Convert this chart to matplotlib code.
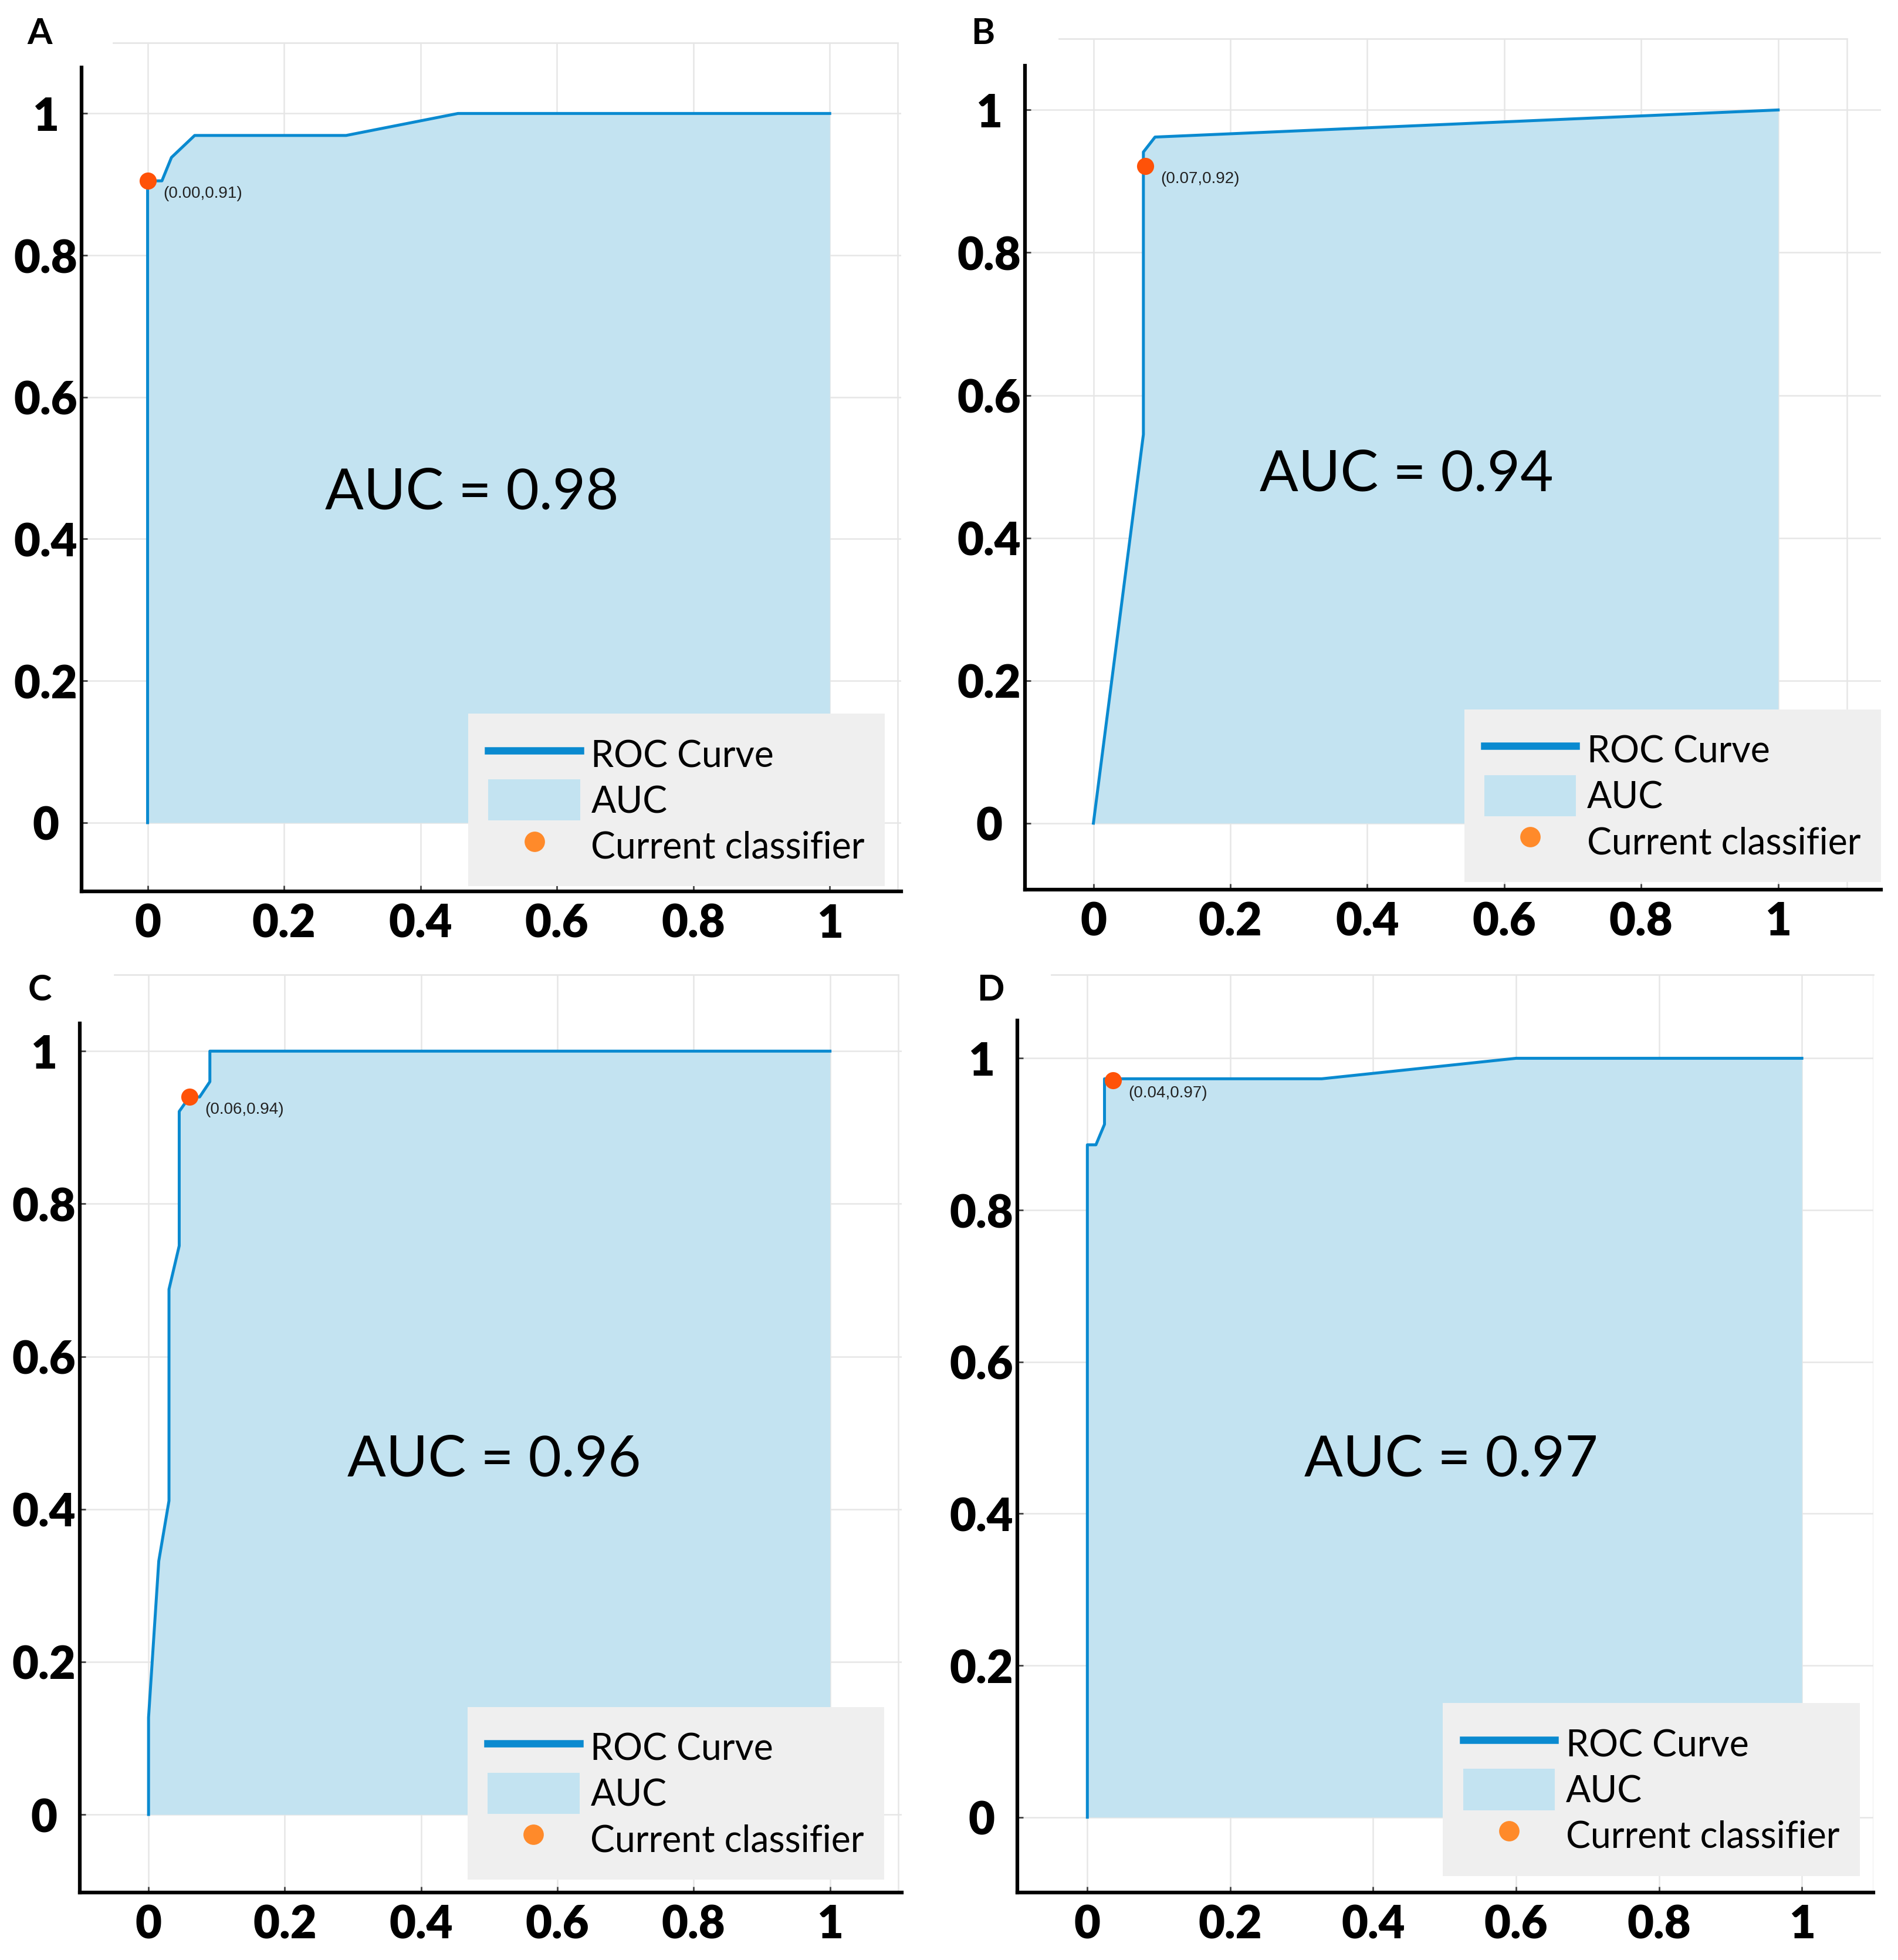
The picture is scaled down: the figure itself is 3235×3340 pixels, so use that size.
import matplotlib
matplotlib.use('Agg')
import matplotlib.pyplot as plt
from matplotlib.lines import Line2D
from matplotlib.patches import Patch

# ---------------- data ----------------
panel_labels = ['A', 'B', 'C', 'D']
auc_values = [0.98, 0.94, 0.96, 0.97]

fpr_a = [0.0, 0.0, 0.021, 0.035, 0.069, 0.291, 0.455, 1.0]
tpr_a = [0.0, 0.905, 0.905, 0.938, 0.969, 0.969, 1.0, 1.0]
fpr_b = [0.0, 0.073, 0.073, 0.090, 1.0]
tpr_b = [0.0, 0.545, 0.941, 0.962, 1.0]
fpr_c = [0.0, 0.0, 0.015, 0.030, 0.030, 0.045, 0.045, 0.060, 0.075, 0.090, 0.090, 1.0]
tpr_c = [0.0, 0.127, 0.332, 0.411, 0.688, 0.745, 0.921, 0.940, 0.940, 0.960, 1.0, 1.0]
fpr_d = [0.0, 0.0, 0.012, 0.024, 0.024, 0.328, 0.600, 1.0]
tpr_d = [0.0, 0.886, 0.886, 0.913, 0.973, 0.973, 1.0, 1.0]

op_x = [0.00, 0.076, 0.06, 0.036]
op_y = [0.905, 0.921, 0.94, 0.971]
op_text = ['(0.00,0.91)', '(0.07,0.92)', '(0.06,0.94)', '(0.04,0.97)']

tick_vals = [0, 0.2, 0.4, 0.6, 0.8, 1]
tick_labels = ['0', '0.2', '0.4', '0.6', '0.8', '1']

legend_labels = ['ROC Curve', 'AUC', 'Current classifier']

# ---------------- layout / style ----------------
curves = [(fpr_a, tpr_a), (fpr_b, tpr_b), (fpr_c, tpr_c), (fpr_d, tpr_d)]
axes_rect = [
    [0.0429, 0.545, 0.432, 0.433],
    [0.540, 0.546, 0.451, 0.434],
    [0.042, 0.0345, 0.433, 0.468],
    [0.536, 0.0345, 0.451, 0.468],
]
xlims = [(-0.097, 1.105), (-0.10, 1.15), (-0.101, 1.105), (-0.098, 1.10)]
ylims = [(-0.097, 1.10), (-0.093, 1.10), (-0.102, 1.10), (-0.099, 1.11)]
spine_top = [1.065, 1.062, 1.036, 1.05]
auc_pos = [(0.475, 0.465), (0.457, 0.489), (0.507, 0.465), (0.509, 0.471)]
leg_anchor = [(0.980, 0.006), (1.0, 0.009), (0.979, 0.014), (0.984, 0.018)]
letter_pos = [(0.021, 0.983), (0.518, 0.983), (0.021, 0.495), (0.522, 0.495)]

LINE = '#0a8ad0'
FILL = '#c3e3f1'
PT = '#ff5208'
PT_LEG = '#ff8a2a'
GRID = '#e6e6e6'

fig = plt.figure(figsize=(32.35, 33.41), dpi=100)

for i in range(4):
    ax = fig.add_axes(axes_rect[i])
    fx, ty = curves[i]
    ax.fill_between(fx, ty, 0, color=FILL, lw=0, zorder=1)
    ax.plot(fx, ty, color=LINE, lw=3.6, zorder=3)
    ax.plot([op_x[i]], [op_y[i]], 'o', color=PT, ms=21, mec='none', zorder=4)
    ax.annotate(op_text[i], (op_x[i], op_y[i]), xytext=(19, -15),
                textcoords='offset points', ha='left', va='center',
                fontsize=20, family='Liberation Sans', color='#222222', zorder=5)
    ax.text(auc_pos[i][0], auc_pos[i][1], f'AUC = {auc_values[i]:.2f}',
            ha='center', va='center', fontsize=70, family='Lato', color='black', zorder=5)

    ax.set_xlim(*xlims[i])
    ax.set_ylim(*ylims[i])
    ax.set_xticks(tick_vals)
    ax.set_xticklabels(tick_labels)
    ax.set_yticks(tick_vals)
    ax.set_yticklabels(tick_labels)
    for lab in ax.get_xticklabels() + ax.get_yticklabels():
        lab.set_fontfamily('Lato')
        lab.set_fontweight('heavy')
        lab.set_fontsize(56)
    for lab in ax.get_yticklabels():
        lab.set_horizontalalignment('center')
    ax.tick_params(axis='y', direction='in', length=7, width=2, color='#444444', pad=44)
    ax.tick_params(axis='x', direction='in', length=7, width=2, color='#444444', pad=14)

    ax.grid(True, color=GRID, lw=1.8, zorder=0)
    ax.set_axisbelow(True)
    ax.axvline(1.1, color=GRID, lw=1.8, zorder=0)

    ax.spines['left'].set_linewidth(4.5)
    ax.spines['bottom'].set_linewidth(4.5)
    ax.spines['left'].set_color('black')
    ax.spines['bottom'].set_color('black')
    ax.spines['left'].set_bounds(ylims[i][0], spine_top[i])
    ax.spines['top'].set_color(GRID)
    ax.spines['top'].set_linewidth(2)
    ax.spines['top'].set_bounds(-0.05, 1.1)
    ax.spines['right'].set_visible(False)

    handles = [Line2D([], [], color=LINE, lw=9),
               Patch(facecolor=FILL, edgecolor='none'),
               Line2D([], [], marker='o', ls='none', color=PT_LEG, ms=25, mec='none')]
    leg = ax.legend(handles, legend_labels, loc='lower right',
                    bbox_to_anchor=leg_anchor[i], borderaxespad=0,
                    prop={'family': 'Lato', 'size': 45},
                    facecolor='#efefef', edgecolor='none', framealpha=1,
                    fancybox=False, borderpad=0.55, handlelength=2.5,
                    handleheight=1.35, handletextpad=0.3, labelspacing=0.12)
    leg.set_zorder(6)

    fig.text(letter_pos[i][0], letter_pos[i][1], panel_labels[i], fontsize=44,
             fontweight='bold', family='Lato', ha='center', va='center')

fig.savefig('out.png', dpi=100)
